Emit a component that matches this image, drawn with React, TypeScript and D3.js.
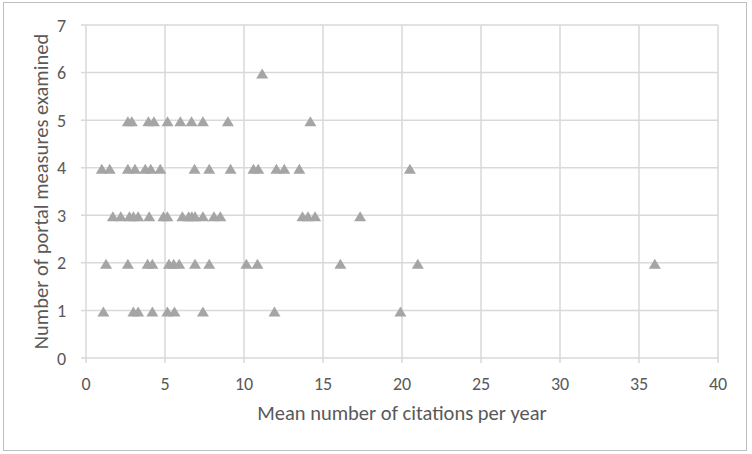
import React, { useEffect, useRef } from "react";
import * as d3 from "d3";

// mean citations per year, grouped by number of portal measures examined
const citations1 = [1.1, 3.0, 3.3, 4.2, 5.15, 5.6, 7.4, 11.93, 19.9];
const citations2 = [1.27, 2.65, 3.9, 4.2, 5.25, 5.55, 5.9, 6.9, 7.8, 10.15, 10.85, 16.1, 21.0, 36.0];
const citations3 = [1.7, 2.2, 2.75, 3.0, 3.3, 4.0, 4.9, 5.15, 6.1, 6.5, 6.7, 6.9, 7.4, 8.1, 8.5, 13.7, 14.05, 14.5, 17.35];
const citations4 = [1.0, 1.5, 2.65, 3.1, 3.75, 4.1, 4.7, 6.87, 7.8, 9.15, 10.6, 10.9, 12.05, 12.55, 13.5, 20.5];
const citations5 = [2.65, 2.9, 3.95, 4.3, 5.16, 5.97, 6.68, 7.4, 8.98, 14.2];
const citations6 = [11.15];

const measureGroups = [citations1, citations2, citations3, citations4, citations5, citations6];
const xTicks = [0, 5, 10, 15, 20, 25, 30, 35, 40];
const yTicks = [0, 1, 2, 3, 4, 5, 6, 7];

const width = 752;
const height = 454;
const margin = { top: 25, right: 34, bottom: 96, left: 86 };
const font = "Carlito, Lato, 'Liberation Sans', Arial, sans-serif";

function App() {
  const ref = useRef<SVGSVGElement>(null);

  useEffect(() => {
    document.body.style.margin = "0";
    const svg = d3.select(ref.current);
    svg.selectAll("*").remove();

    const points = measureGroups.flatMap((xs, i) => xs.map((x) => ({ x, y: i + 1 })));

    const x = d3.scaleLinear().domain([0, 40]).range([margin.left, width - margin.right]);
    const y = d3.scaleLinear().domain([0, 7]).range([height - margin.bottom, margin.top]);

    // chart border
    svg
      .append("rect")
      .attr("x", 3.5)
      .attr("y", 2.5)
      .attr("width", 743)
      .attr("height", 448)
      .attr("fill", "white")
      .attr("stroke", "#bfbfbf")
      .attr("stroke-width", 1);

    // gridlines
    svg
      .append("g")
      .selectAll("line")
      .data(xTicks)
      .join("line")
      .attr("x1", (d) => x(d))
      .attr("x2", (d) => x(d))
      .attr("y1", y(7))
      .attr("y2", y(0) + 5)
      .attr("stroke", "#d9d9d9")
      .attr("stroke-width", 1.5);

    svg
      .append("g")
      .selectAll("line")
      .data(yTicks)
      .join("line")
      .attr("x1", x(0) - 5)
      .attr("x2", x(40))
      .attr("y1", (d) => y(d))
      .attr("y2", (d) => y(d))
      .attr("stroke", "#d9d9d9")
      .attr("stroke-width", 1.5);

    // tick labels
    svg
      .append("g")
      .selectAll("text")
      .data(xTicks)
      .join("text")
      .attr("x", (d) => x(d))
      .attr("y", 390)
      .attr("text-anchor", "middle")
      .attr("font-family", font)
      .attr("font-size", 18)
      .attr("fill", "#595959")
      .text((d) => d);

    svg
      .append("g")
      .selectAll("text")
      .data(yTicks)
      .join("text")
      .attr("x", x(0) - 20)
      .attr("y", (d) => y(d) + 6.5)
      .attr("text-anchor", "end")
      .attr("font-family", font)
      .attr("font-size", 18)
      .attr("fill", "#595959")
      .text((d) => d);

    // axis titles
    svg
      .append("text")
      .attr("x", (x(0) + x(40)) / 2)
      .attr("y", 420)
      .attr("text-anchor", "middle")
      .attr("font-family", font)
      .attr("font-size", 20.5)
      .attr("fill", "#595959")
      .text("Mean number of citations per year");

    svg
      .append("text")
      .attr("transform", `translate(48, ${(y(0) + y(7)) / 2}) rotate(-90)`)
      .attr("text-anchor", "middle")
      .attr("font-family", font)
      .attr("font-size", 20.5)
      .attr("fill", "#595959")
      .text("Number of portal measures examined");

    // triangle markers
    const tri = (cx: number, cy: number) =>
      `M${cx},${cy - 5}L${cx + 6},${cy + 5}L${cx - 6},${cy + 5}Z`;

    svg
      .append("g")
      .selectAll("path")
      .data(points)
      .join("path")
      .attr("d", (d) => tri(x(d.x), y(d.y) + 1))
      .attr("fill", "#a5a5a5");
  }, []);

  return <svg ref={ref} width={width} height={height} style={{ display: "block" }} />;
}

export default App;
